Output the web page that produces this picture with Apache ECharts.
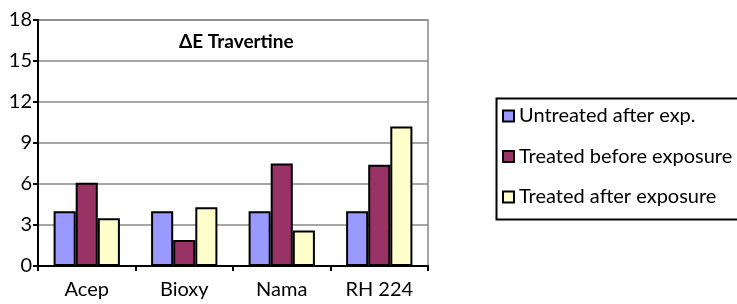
<!DOCTYPE html>
<html>
<head>
<meta charset="utf-8">
<script src="https://cdn.jsdelivr.net/npm/echarts@6/dist/echarts.min.js"></script>
<style>
  html, body { margin: 0; padding: 0; background: #fff; }
  #chart { width: 737px; height: 304px; }
</style>
</head>
<body>
<div id="chart"></div>
<script>
// data
const categories = ['Acep', 'Bioxy', 'Nama', 'RH 224'];
const untreatedAfter = [4.0, 4.0, 4.0, 4.0];
const treatedBefore = [6.1, 1.9, 7.5, 7.4];
const treatedAfter = [3.5, 4.3, 2.6, 10.2];
const yTicks = [0, 3, 6, 9, 12, 15, 18];

const font = 'Lato';

let myChart = echarts.init(document.getElementById('chart'));

function bar(name, data, color) {
    return {
        name: name,
        type: 'bar',
        data: data,
        barGap: '0%',
        barCategoryGap: '32%',
        itemStyle: { color: color, borderColor: '#000', borderWidth: 2 }
    };
}

myChart.setOption({
    animation: false,
    textStyle: { fontFamily: font },
    title: {
        text: '\u0394E Travertine',
        left: 174,
        top: 27,
        textStyle: { fontFamily: font, fontSize: 19, fontWeight: 'bold', color: '#000' }
    },
    grid: {
        left: 38, right: 309, top: 20, bottom: 38,
        show: true, borderColor: '#888', borderWidth: 1.5
    },
    // legend frame, runs off the right edge like in the picture
    graphic: [{
        type: 'rect',
        left: 494,
        top: 96,
        shape: { width: 280, height: 121 },
        style: { fill: null, stroke: '#000', lineWidth: 2 },
        z: 10
    }],
    legend: {
        orient: 'vertical',
        left: 495,
        top: 97,
        padding: [9, 0, 9, 7],
        itemWidth: 11,
        itemHeight: 11,
        itemGap: 20.5,
        icon: 'rect',
        textStyle: { fontFamily: font, fontSize: 20, color: '#000', lineHeight: 20 }
    },
    xAxis: {
        type: 'category',
        data: categories,
        axisLine: { lineStyle: { color: '#000', width: 2 } },
        axisTick: { show: true, length: 5, lineStyle: { color: '#000', width: 2 } },
        axisLabel: { color: '#000', fontSize: 20, margin: 14, fontFamily: font }
    },
    yAxis: {
        type: 'value',
        min: yTicks[0],
        max: yTicks[yTicks.length - 1],
        interval: 3,
        axisLine: { show: true, lineStyle: { color: '#000', width: 2 } },
        axisTick: { show: true, length: 5, lineStyle: { color: '#000', width: 2 } },
        axisLabel: { color: '#000', fontSize: 20, margin: 6, fontFamily: font },
        splitLine: { lineStyle: { color: '#888', width: 1.5 } }
    },
    series: [
        bar('Untreated after exp.', untreatedAfter, '#9999FF'),
        bar('Treated before exposure', treatedBefore, '#993366'),
        bar('Treated after exposure', treatedAfter, '#FFFFCC')
    ]
});
</script>
</body>
</html>
